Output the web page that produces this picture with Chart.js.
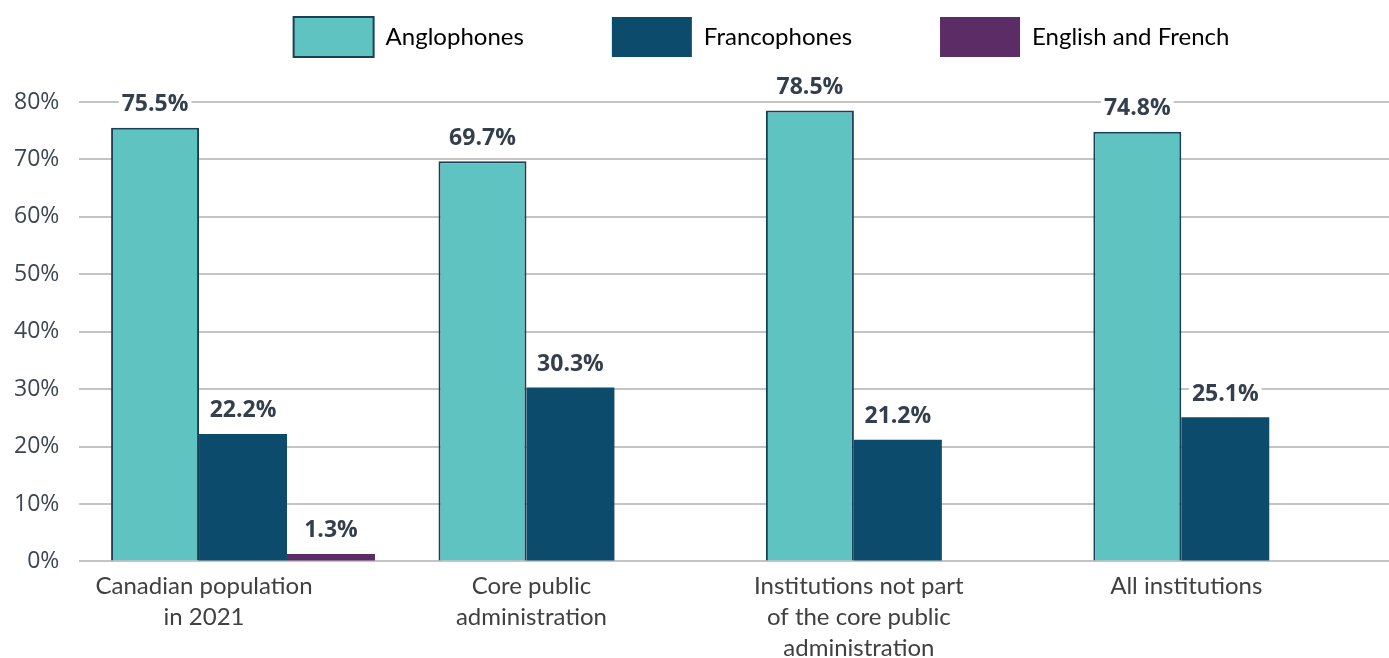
<!DOCTYPE html>
<html>
<head>
<meta charset="utf-8">
<script src="https://cdn.jsdelivr.net/npm/chart.js@4.4.0/dist/chart.umd.min.js"></script>
<style>
  html, body { margin: 0; padding: 0; background: #fff; }
  #wrap { width: 1389px; height: 658px; }
</style>
</head>
<body>
<div id="wrap"><canvas id="chart"></canvas></div>
<script>
// Data
const categories = [
  ['Canadian population', 'in 2021'],
  ['Core public', 'administration'],
  ['Institutions not part', 'of the core public', 'administration'],
  ['All institutions']
];
const seriesNames = ['Anglophones', 'Francophones', 'English and French'];
const anglophones = [75.5, 69.7, 78.5, 74.8];
const francophones = [22.2, 30.3, 21.2, 25.1];
const englishAndFrench = [1.3, null, null, null];
const yMin = 0;
const yMax = 80;
const yStep = 10;

// Colours
const TEAL = '#5fc3c1';
const NAVY = '#0d4b6c';
const PURPLE = '#5b2c65';
const TEAL_BORDER = '#1c3f58';
const LABEL_COLOR = '#333f4d';

const LEGEND_PAD = 88;
const LEGEND_BOX_TOP = 17;
const PLOT_TOP = 102;

// value above each bar, white patch behind it hides the gridline
const valueLabels = {
  id: 'valueLabels',
  afterDatasetsDraw(chart) {
    const ctx = chart.ctx;
    ctx.save();
    ctx.font = 'bold 23px "Open Sans"';
    ctx.textAlign = 'center';
    ctx.textBaseline = 'middle';
    chart.data.datasets.forEach((ds, i) => {
      const meta = chart.getDatasetMeta(i);
      meta.data.forEach((bar, j) => {
        const v = ds.data[j];
        if (v === null || v === undefined) return;
        const txt = v.toFixed(1) + '%';
        const w = ctx.measureText(txt).width;
        const y = bar.y - 23;
        ctx.fillStyle = '#ffffff';
        ctx.fillRect(bar.x - w / 2 - 3, y - 12, w + 6, 24);
        ctx.fillStyle = LABEL_COLOR;
        ctx.fillText(txt, bar.x, y);
      });
    });
    ctx.restore();
  }
};

// legend: keep big gaps between items but still end right above the plot,
// and centre it over the right part like the original
const legendTweak = {
  id: 'legendTweak',
  beforeLayout(chart) {
    const lg = chart.legend;
    if (lg && !lg._tweaked) {
      const fit = lg.fit.bind(lg);
      lg.fit = function () {
        fit();
        this.height = PLOT_TOP - (LEGEND_BOX_TOP - LEGEND_PAD);
      };
      lg._tweaked = true;
    }
  },
  afterLayout(chart) {
    const lg = chart.legend;
    if (lg) {
      lg.left = 134;
      lg.right = 1389;
    }
  }
};

new Chart(document.getElementById('chart'), {
  type: 'bar',
  data: {
    labels: categories,
    datasets: [
      { label: seriesNames[0], data: anglophones, backgroundColor: TEAL, borderColor: TEAL_BORDER, borderWidth: 2 },
      { label: seriesNames[1], data: francophones, backgroundColor: NAVY, borderWidth: 0 },
      { label: seriesNames[2], data: englishAndFrench, backgroundColor: PURPLE, borderWidth: 0 }
    ]
  },
  options: {
    responsive: true,
    maintainAspectRatio: false,
    animation: false,
    datasets: {
      bar: { categoryPercentage: 0.806, barPercentage: 1 }
    },
    layout: {
      padding: { top: LEGEND_BOX_TOP - LEGEND_PAD, left: -6, right: 0, bottom: -7 }
    },
    plugins: {
      tooltip: { enabled: false },
      legend: {
        position: 'top',
        labels: {
          boxWidth: 80,
          boxHeight: 40,
          padding: LEGEND_PAD,
          color: '#404040',
          font: { family: 'Lato', size: 24 },
          generateLabels(chart) {
            return chart.data.datasets.map((ds, i) => ({
              text: ds.label,
              fillStyle: ds.backgroundColor,
              strokeStyle: i === 0 ? TEAL_BORDER : ds.backgroundColor,
              lineWidth: i === 0 ? 2 : 0,
              datasetIndex: i,
              hidden: false
            }));
          }
        }
      }
    },
    scales: {
      x: {
        grid: { display: false },
        border: { display: false },
        ticks: {
          color: '#404040',
          font: { family: 'Lato', size: 24, lineHeight: 1.3 },
          maxRotation: 0,
          autoSkip: false,
          padding: 1,
          labelOffset: -39
        }
      },
      y: {
        min: yMin,
        max: yMax,
        border: { display: false },
        grid: { color: '#c4c4c4', lineWidth: 2, drawTicks: false },
        ticks: {
          stepSize: yStep,
          padding: 20,
          color: '#3c4650',
          font: { family: 'Open Sans', size: 23 },
          callback: v => v + '%'
        }
      }
    }
  },
  plugins: [valueLabels, legendTweak]
});
</script>
</body>
</html>
